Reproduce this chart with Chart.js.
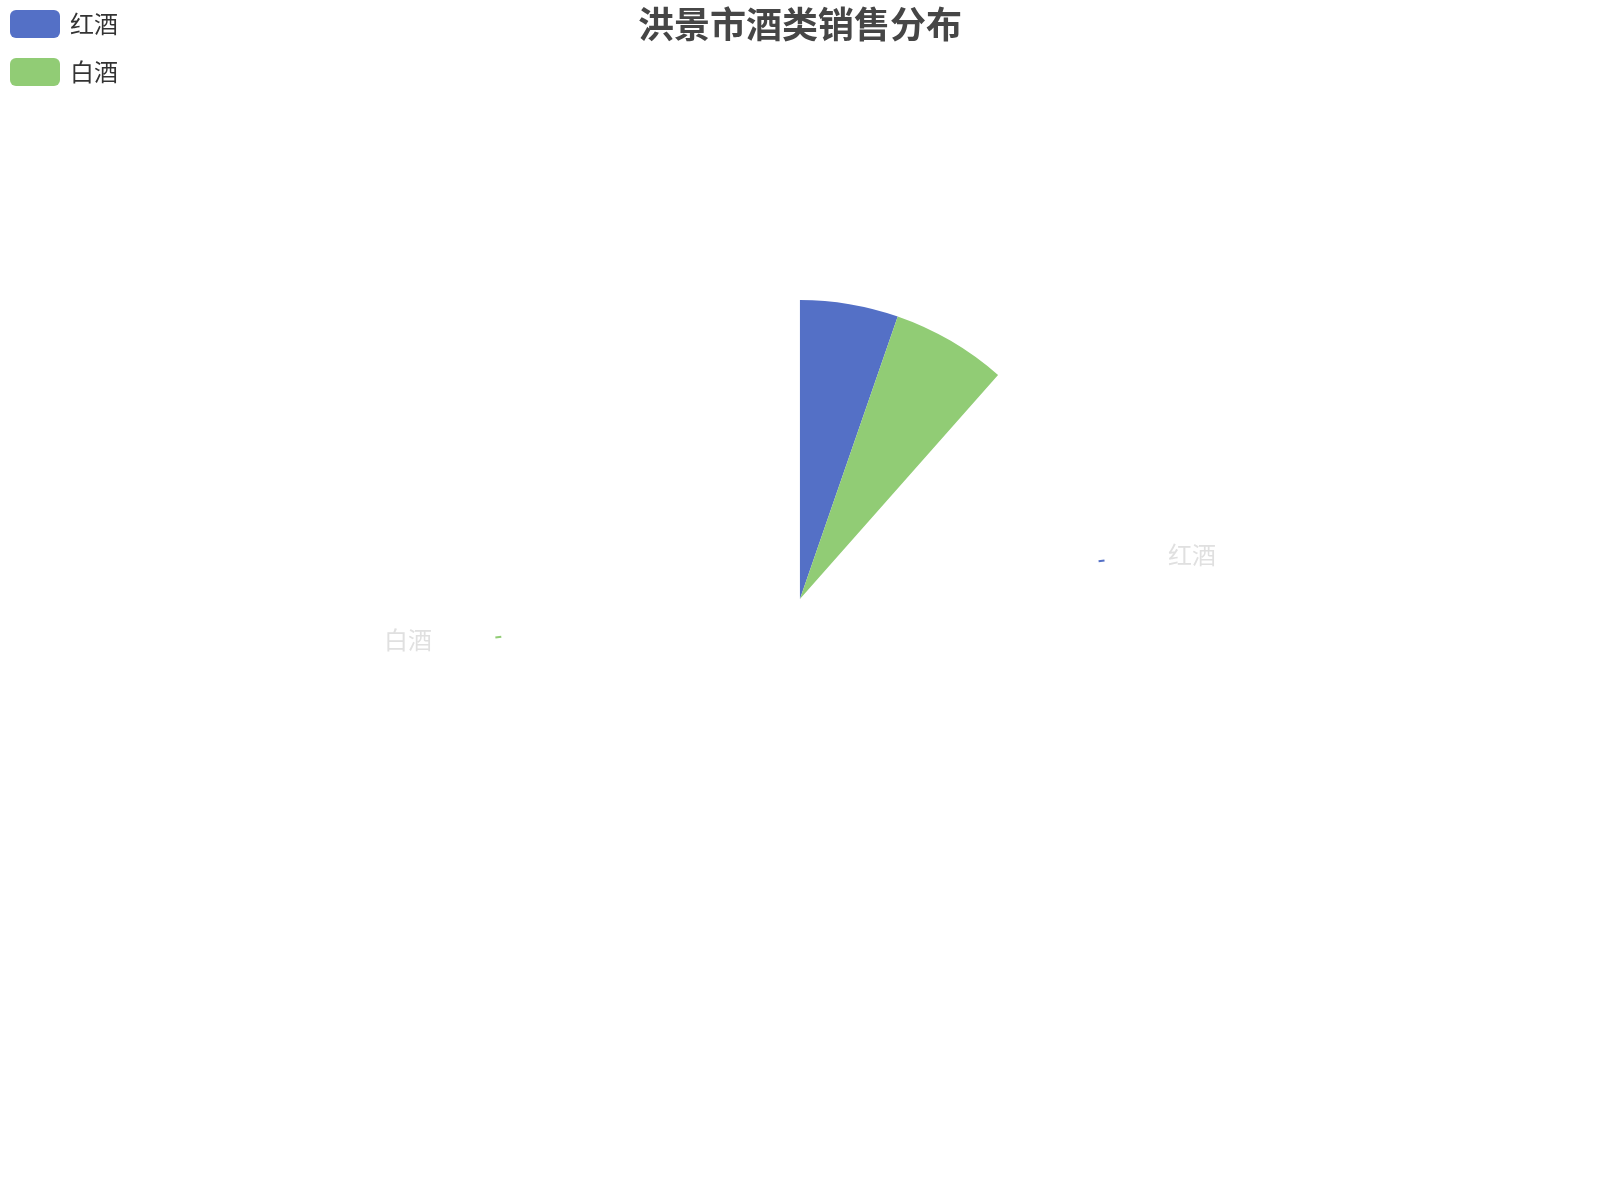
<!DOCTYPE html>
<html>
<head>
<meta charset="utf-8">
<script src="https://cdn.jsdelivr.net/npm/chart.js@4.4.1/dist/chart.umd.min.js"></script>
<style>
  body { margin: 0; background: #fff; }
  #wrap { width: 1600px; height: 1200px; position: relative; }
</style>
</head>
<body>
<div id="wrap"><canvas id="wineChart"></canvas></div>
<script>
const titleText = '洪景市酒类销售分布';
const categories = ['红酒', '白酒'];
const salesValues = [46, 54];
const sliceColors = ['#5470c6', '#91cc75'];
// the picture caught the opening sweep part way round, only this much is drawn
const sweepDegrees = 41.5;

const cjkFont = '"Noto Sans CJK SC", "Noto Sans", sans-serif';

// title, legend and the outside labels (placed for the full circle)
const overlayPlugin = {
  id: 'overlay',
  afterDraw(chart) {
    const ctx = chart.ctx;
    const meta = chart.getDatasetMeta(0);
    const arc0 = meta.data[0];
    const cx = arc0.x, cy = arc0.y, r = arc0.outerRadius;
    const total = salesValues.reduce((a, b) => a + b, 0);
    ctx.save();

    // title
    ctx.font = 'bold 36px ' + cjkFont;
    ctx.fillStyle = '#464646';
    ctx.textAlign = 'center';
    ctx.textBaseline = 'middle';
    ctx.fillText(titleText, chart.width / 2, 24);

    // legend
    categories.forEach((name, i) => {
      const y = 10 + i * 48;
      ctx.fillStyle = sliceColors[i];
      ctx.beginPath();
      ctx.roundRect(10, y, 50, 28, 6);
      ctx.fill();
      ctx.font = '24px ' + cjkFont;
      ctx.fillStyle = '#333';
      ctx.textAlign = 'left';
      ctx.textBaseline = 'middle';
      ctx.fillText(name, 70, y + 14);
    });

    // outer labels with the start of their leader lines
    let acc = 0;
    salesValues.forEach((v, i) => {
      const mid = (acc + v / 2) / total * Math.PI * 2;
      acc += v;
      const sx = Math.sin(mid), sy = -Math.cos(mid);
      ctx.strokeStyle = sliceColors[i];
      ctx.lineWidth = 2;
      ctx.beginPath();
      ctx.moveTo(cx + sx * (r + 2), cy + sy * (r + 2));
      ctx.lineTo(cx + sx * (r + 8), cy + sy * (r + 8));
      ctx.stroke();
      const right = sx >= 0;
      ctx.font = '24px ' + cjkFont;
      ctx.fillStyle = '#e0e0e0';
      ctx.textAlign = right ? 'left' : 'right';
      ctx.textBaseline = 'middle';
      ctx.fillText(categories[i], cx + (right ? 1 : -1) * (r + 69), cy + sy * (r + 40) - 2);
    });
    ctx.restore();
  }
};

const ctx = document.getElementById('wineChart').getContext('2d');
const wineChart = new Chart(ctx, {
  type: 'pie',
  data: {
    labels: categories,
    datasets: [{
      data: salesValues,
      backgroundColor: sliceColors,
      borderWidth: 0,
      radius: 299,
      rotation: 0,
      circumference: sweepDegrees
    }]
  },
  options: {
    responsive: true,
    maintainAspectRatio: false,
    animation: false,
    // a partial pie gets re-centred by Chart.js, this padding pulls it back to the middle
    layout: {
      padding: { left: 198, right: 0, top: 0, bottom: 301 }
    },
    plugins: {
      legend: { display: false },
      title: { display: false },
      tooltip: { enabled: false }
    }
  },
  plugins: [overlayPlugin]
});
</script>
</body>
</html>
